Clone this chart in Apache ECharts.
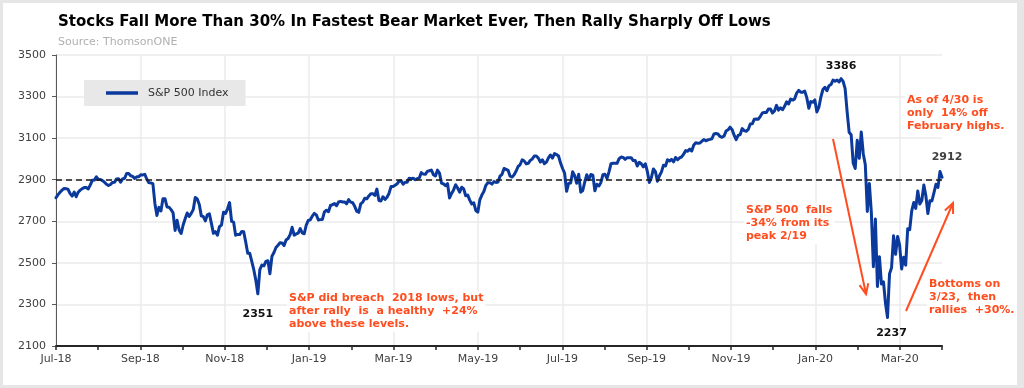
<!DOCTYPE html>
<html><head><meta charset="utf-8">
<script src="https://cdn.jsdelivr.net/npm/echarts@6/dist/echarts.min.js"></script>
<style>
html,body{margin:0;padding:0;background:#e6e6e6;width:1024px;height:388px;overflow:hidden;}
#card{position:absolute;left:3px;top:3px;width:1014px;height:382px;background:#fff;}
#chart{position:absolute;left:0;top:0;width:1024px;height:388px;}
</style></head><body>
<div id="card"></div><div id="chart"></div>
<script>
// x-axis tick labels (one per tick; labelled every other tick)
const tickLabels = ['Jul-18','','Sep-18','','Nov-18','','Jan-19','','Mar-19','','May-19','','Jul-19','','Sep-19','','Nov-19','','Jan-20','','Mar-20',''];
const yTicks = [2100, 2300, 2500, 2700, 2900, 3100, 3300, 3500];
const refLevel = 2900;
const seriesName = 'S&P 500 Index';
// S&P 500 daily closes, Aug-2018 .. Apr-2020 (trading days)
const spx2018 = [
2813,2828,2840,2850,2858,2857,2853,2833,2821,2840,2818,2840,2850,2857,2862,2862,2856,2875,2897,2898,2914,2901,2901,
2896,2888,2878,2872,2877,2887,2888,2904,2905,2888,2904,2907,2930,2930,2919,2916,2906,2914,2914,
2924,2923,2926,2902,2886,2884,2881,2786,2728,2767,2750,2809,2809,2769,2768,2756,2741,2656,2705,2658,2641,2682,2712,
2740,2723,2738,2756,2814,2807,2781,2726,2722,2702,2731,2736,2690,2642,2650,2633,2674,2682,2744,2738,2760,
2790,2700,2696,2633,2637,2636,2651,2650,2600,2546,2546,2507,2467,2417,2351,2468,2489,2486,2507];
const spx2019 = [
2510,2448,2532,2550,2574,2585,2597,2596,2583,2610,2617,2636,2671,2633,2639,2643,2665,2644,2640,2682,2704,
2707,2725,2738,2731,2706,2708,2709,2745,2753,2746,2776,2780,2785,2775,2793,2796,2793,2793,2784,
2804,2792,2789,2772,2749,2743,2784,2792,2811,2808,2822,2833,2833,2824,2855,2800,2798,2818,2805,2816,2834,
2867,2867,2873,2880,2893,2895,2878,2888,2888,2907,2905,2907,2900,2905,2908,2934,2927,2926,2940,2943,2946,
2924,2918,2946,2932,2884,2880,2871,2881,2812,2834,2851,2876,2860,2840,2864,2856,2823,2826,2802,2783,2789,2752,
2744,2803,2826,2843,2873,2886,2885,2879,2891,2887,2889,2917,2926,2954,2950,2945,2917,2913,2924,2942,
2964,2973,2996,2990,2976,2979,2993,3000,3014,3014,3004,2985,2996,2977,2985,3005,3019,3004,3026,3021,3014,2980,
2954,2932,2844,2882,2884,2938,2919,2883,2926,2840,2848,2889,2924,2900,2925,2922,2847,2878,2870,2887,2924,2926,
2906,2938,2977,2979,2979,2979,3001,3009,3007,2998,3006,3006,3006,2992,2992,2966,2984,2977,2962,2977,
2940,2887,2910,2952,2939,2893,2919,2938,2970,2966,2996,2990,2998,2986,3007,2996,3005,3010,3023,3040,3037,3047,3038,
3067,3078,3075,3076,3085,3093,3087,3092,3094,3097,3120,3122,3120,3108,3104,3110,3134,3140,3153,3141,
3114,3093,3113,3117,3146,3136,3133,3142,3168,3169,3191,3192,3191,3205,3221,3224,3223,3240,3240,3221,3231];
const spx2020 = [
3258,3235,3246,3237,3253,3275,3265,3288,3283,3289,3317,3330,3321,3321,3326,3295,3244,3276,3273,3284,3226,
3249,3298,3334,3345,3328,3352,3358,3379,3374,3380,3370,3386,3373,3338,3226,3128,3116,2979,2954,
3090,3003,3130,3024,2972,2747,2882,2741,2481,2711,2386,2529,2398,2409,2305,2237,2447,2476,2630,2541,2627,2585,
2471,2527,2489,2664,2660,2750,2790,2762,2846,2783,2800,2875,2823,2737,2799,2798,2837,2878,2863,2939,2912];

const RED = '#ff4d1f';
const FONT = '"DejaVu Sans", Verdana, sans-serif';
const spx = spx2018.concat(spx2019, spx2020);
const nSpan = tickLabels.length - 1;
const xOf = i => i * nSpan / (spx.length - 1);
const lineData = spx.map((v, i) => [xOf(i), v]);

const iMax = spx.indexOf(Math.max(...spx));
const iMin = spx.indexOf(Math.min(...spx));
const i2018Min = spx2018.indexOf(Math.min(...spx2018));
const iLast = spx.length - 1;

function arrow(x1, y1, x2, y2) {
  const ang = Math.atan2(y2 - y1, x2 - x1), L = 11, a = 0.42;
  const p1 = [x2 - L * Math.cos(ang - a), y2 - L * Math.sin(ang - a)];
  const p2 = [x2 - L * Math.cos(ang + a), y2 - L * Math.sin(ang + a)];
  return [
    {type: 'line', z: 100, shape: {x1, y1, x2, y2}, style: {stroke: RED, lineWidth: 2}},
    {type: 'polyline', z: 100, shape: {points: [p1, [x2, y2], p2]}, style: {stroke: RED, lineWidth: 2, fill: null}}
  ];
}
function note(left, top, text) {
  return {type: 'text', left, top, z: 90,
    style: {text, fill: RED, font: 'bold 11px ' + FONT, lineHeight: 13, backgroundColor: '#fff', padding: [1, 2, 1, 2]}};
}
function mp(i, color, offset) {
  return {coord: [xOf(i), spx[i]], value: spx[i],
    label: {show: true, offset, color, fontWeight: 'bold', fontSize: 11, fontFamily: FONT, position: 'inside', formatter: String(spx[i])}};
}

const chart = echarts.init(document.getElementById('chart'), null, {renderer: 'canvas'});
chart.setOption({
  animation: false,
  backgroundColor: 'transparent',
  title: {
    text: 'Stocks Fall More Than 30% In Fastest Bear Market Ever, Then Rally Sharply Off Lows',
    subtext: 'Source: ThomsonONE',
    left: 58, top: 13, padding: 0, itemGap: 5,
    textStyle: {fontFamily: FONT, fontWeight: 'bold', fontSize: 15, color: '#000', lineHeight: 18},
    subtextStyle: {fontFamily: FONT, fontSize: 11, color: '#b0b0b0', lineHeight: 13}
  },
  legend: {
    data: [seriesName], left: 84, top: 80, padding: [6, 17, 6, 22],
    backgroundColor: '#e8e8e8', itemWidth: 32, itemHeight: 3.5, icon: 'rect',
    textStyle: {fontFamily: FONT, fontSize: 11, color: '#333', padding: [0, 0, 0, 5], lineHeight: 14}
  },
  grid: {left: 56, right: 82, top: 55, bottom: 42},
  xAxis: {
    type: 'value', min: 0, max: nSpan, interval: 1,
    axisLine: {show: true, onZero: false, lineStyle: {color: '#262626', width: 2}},
    axisTick: {show: true, length: 4, lineStyle: {color: '#262626', width: 1.5}},
    axisLabel: {formatter: v => tickLabels[Math.round(v)] || '', color: '#404040', fontSize: 11, fontFamily: FONT, margin: 8},
    splitLine: {show: true, lineStyle: {color: ['#ebebeb', 'rgba(0,0,0,0)'], width: 1.5}}
  },
  yAxis: {
    type: 'value', min: yTicks[0], max: yTicks[yTicks.length - 1], interval: yTicks[1] - yTicks[0],
    axisLine: {show: true, lineStyle: {color: '#595959', width: 1}},
    axisTick: {show: true, length: 4, lineStyle: {color: '#595959'}},
    axisLabel: {formatter: v => String(v), color: '#404040', fontSize: 11, fontFamily: FONT, margin: 10},
    splitLine: {show: true, lineStyle: {color: '#ebebeb', width: 1.5}}
  },
  series: [{
    name: seriesName, type: 'line', data: lineData, symbol: 'none', showSymbol: false,
    lineStyle: {color: '#0b3a9c', width: 3, join: 'round', cap: 'round'},
    itemStyle: {color: '#0b3a9c'},
    markLine: {
      silent: true, symbol: ['none', 'none'], data: [{yAxis: refLevel}],
      lineStyle: {color: '#1a1a1a', type: [6, 4], width: 1.5}, label: {show: false}
    },
    markPoint: {
      silent: true, symbol: 'circle', symbolSize: 1, itemStyle: {color: 'rgba(0,0,0,0)'},
      data: [
        mp(iMax, '#111', [0, -13]),
        mp(i2018Min, '#111', [0, 20]),
        mp(iMin, '#111', [4, 16]),
        mp(iLast, '#404040', [5, -20])
      ]
    }
  }],
  graphic: [
    note(287, 291, 'S&P did breach  2018 lows, but\nafter rally  is  a healthy  +24%\nabove these levels.'),
    note(744, 203, 'S&P 500  falls\n-34% from its\npeak 2/19'),
    note(905, 93, 'As of 4/30 is\nonly  14% off\nFebruary highs.'),
    note(927, 277, 'Bottoms on\n3/23,  then\nrallies  +30%.'),
    ...arrow(833, 139, 866, 294),
    ...arrow(906, 311, 953, 203)
  ]
});
</script>
</body></html>
